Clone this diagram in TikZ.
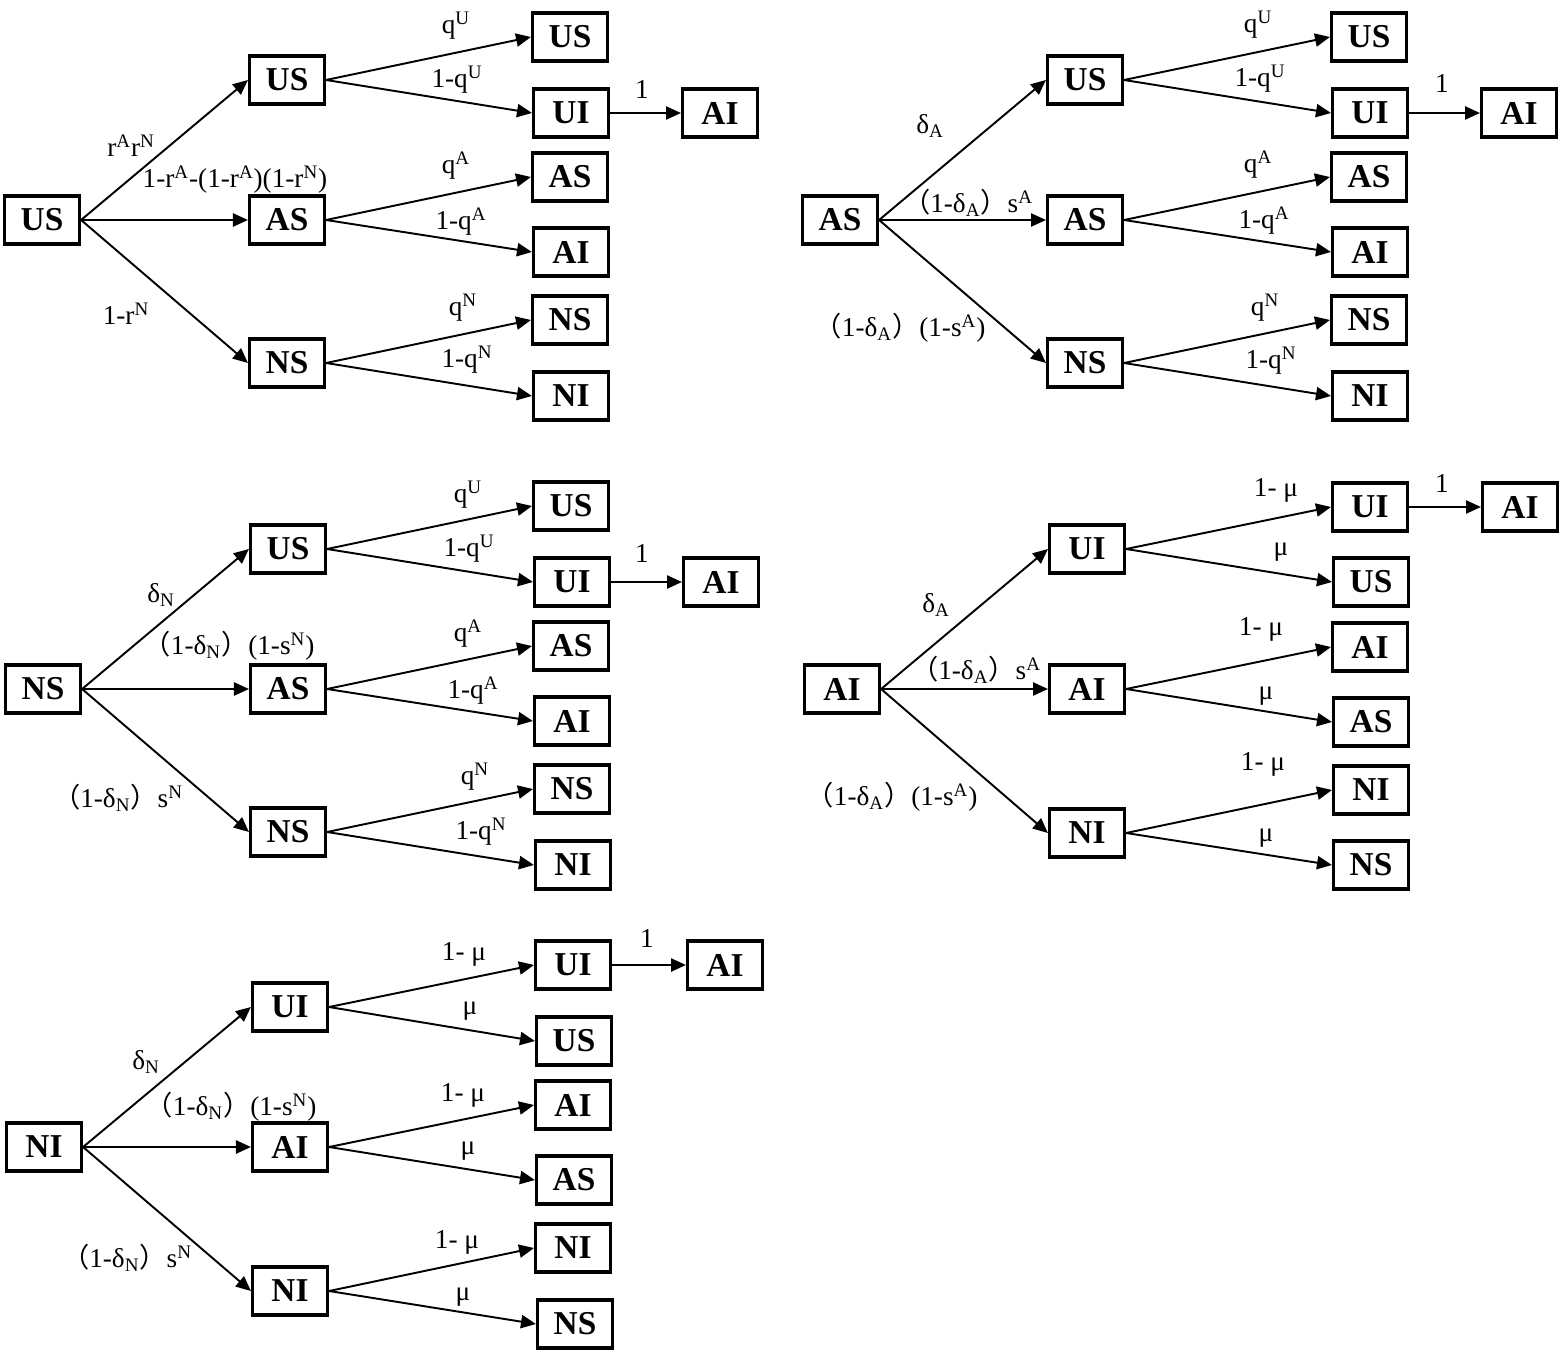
\documentclass[tikz,border=0pt]{standalone}
\usepackage{fontspec}
\setmainfont{Liberation Serif}
\newfontfamily\cjk{Noto Sans CJK SC}
\usetikzlibrary{arrows.meta}
\newcommand{\up}[1]{\textsuperscript{#1}}
\newcommand{\dn}[1]{\textsubscript{#1}}
\newcommand{\lp}{{\cjk （}}
\newcommand{\rp}{{\cjk ）}}
\newcommand{\statenode}[3] {\node at (#1) (#2) [state] {#3};}
\newcommand{\branch}[4] {\draw [prob] (#1.east) -- (#2.west) node (l#2) at (#3) [plabel] {#4};}
\tikzset{
  state/.style={rectangle, draw, line width=1.8pt, minimum width=1.5cm, minimum height=0.96cm, inner sep=0pt, font=\fontsize{19}{22}\selectfont\bfseries},
  prob/.style={-{Triangle[length=8.5pt,width=7.5pt]}, line width=1.1pt},
  plabel/.style={inner sep=0pt, font=\fontsize{15.5}{18}\selectfont}
}
\begin{document}
\begin{tikzpicture}[x=0.02cm, y=-0.02cm]
\useasboundingbox (0,0) rectangle (1561,1361);

\statenode {42,220}{us0}{US}
\statenode {287,80}{us1}{US}
\statenode {287,220}{us2}{AS}
\statenode {287,363}{us3}{NS}
\statenode {570,37}{us11}{US}
\statenode {571,113}{us12}{UI}
\statenode {720,113}{us4}{AI}
\statenode {570,177}{us21}{AS}
\statenode {571,252}{us22}{AI}
\statenode {570,320}{us31}{NS}
\statenode {571,396}{us32}{NI}

\branch {us0}{us1}{131,146}{r\up{A}r\up{N}}
\branch {us0}{us2}{235,180}{1-r\up{A}-(1-r\up{A})(1-r\up{N})}
\branch {us0}{us3}{126,314}{1-r\up{N}}
\branch {us1}{us11}{456,26}{q\up{U}}
\branch {us1}{us12}{457,80}{1-q\up{U}}
\branch {us12}{us4}{642,90}{1}
\branch {us2}{us21}{456,166}{q\up{A}}
\branch {us2}{us22}{461,222}{1-q\up{A}}
\branch {us3}{us31}{463,308}{q\up{N}}
\branch {us3}{us32}{467,360}{1-q\up{N}}

\statenode {840,220}{as0}{AS}
\statenode {1085,80}{as1}{US}
\statenode {1085,220}{as2}{AS}
\statenode {1085,363}{as3}{NS}
\statenode {1369,37}{as11}{US}
\statenode {1370,113}{as12}{UI}
\statenode {1519,113}{as4}{AI}
\statenode {1369,177}{as21}{AS}
\statenode {1370,252}{as22}{AI}
\statenode {1369,320}{as31}{NS}
\statenode {1370,396}{as32}{NI}

\branch {as0}{as1}{930,126}{δ\dn{A}}
\branch {as0}{as2}{968,203}{\lp 1-δ\dn{A}\rp s\up{A}}
\branch {as0}{as3}{900,328}{\lp 1-δ\dn{A}\rp(1-s\up{A})}
\branch {as1}{as11}{1258,25}{q\up{U}}
\branch {as1}{as12}{1260,79}{1-q\up{U}}
\branch {as12}{as4}{1442,84}{1}
\branch {as2}{as21}{1258,165}{q\up{A}}
\branch {as2}{as22}{1264,221}{1-q\up{A}}
\branch {as3}{as31}{1265,308}{q\up{N}}
\branch {as3}{as32}{1271,361}{1-q\up{N}}

\statenode {43,689}{ns0}{NS}
\statenode {288,549}{ns1}{US}
\statenode {288,689}{ns2}{AS}
\statenode {288,832}{ns3}{NS}
\statenode {571,506}{ns11}{US}
\statenode {572,582}{ns12}{UI}
\statenode {721,582}{ns4}{AI}
\statenode {571,646}{ns21}{AS}
\statenode {572,721}{ns22}{AI}
\statenode {572,789}{ns31}{NS}
\statenode {573,865}{ns32}{NI}

\branch {ns0}{ns1}{161,595}{δ\dn{N}}
\branch {ns0}{ns2}{229,646}{\lp 1-δ\dn{N}\rp(1-s\up{N})}
\branch {ns0}{ns3}{118,798}{\lp 1-δ\dn{N}\rp s\up{N}}
\branch {ns1}{ns11}{468,495}{q\up{U}}
\branch {ns1}{ns12}{469,549}{1-q\up{U}}
\branch {ns12}{ns4}{642,554}{1}
\branch {ns2}{ns21}{468,634}{q\up{A}}
\branch {ns2}{ns22}{473,691}{1-q\up{A}}
\branch {ns3}{ns31}{475,777}{q\up{N}}
\branch {ns3}{ns32}{481,832}{1-q\up{N}}

\statenode {842,689}{ai0}{AI}
\statenode {1087,549}{ai1}{UI}
\statenode {1087,689}{ai2}{AI}
\statenode {1087,833}{ai3}{NI}
\statenode {1370,507}{ai11}{UI}
\statenode {1520,507}{ai4}{AI}
\statenode {1371,582}{ai12}{US}
\statenode {1370,647}{ai21}{AI}
\statenode {1371,722}{ai22}{AS}
\statenode {1371,790}{ai31}{NI}
\statenode {1371,865}{ai32}{NS}

\branch {ai0}{ai1}{936,605}{δ\dn{A}}
\branch {ai0}{ai2}{976,670}{\lp 1-δ\dn{A}\rp s\up{A}}
\branch {ai0}{ai3}{892,797}{\lp 1-δ\dn{A}\rp(1-s\up{A})}
\branch {ai1}{ai11}{1276,490}{1- μ}
\branch {ai1}{ai12}{1281,552}{μ}
\branch {ai11}{ai4}{1442,484}{1}
\branch {ai2}{ai21}{1261,629}{1- μ}
\branch {ai2}{ai22}{1266,696}{μ}
\branch {ai3}{ai31}{1263,764}{1- μ}
\branch {ai3}{ai32}{1266,838}{μ}

\statenode {44,1147}{ni0}{NI}
\statenode {290,1007}{ni1}{UI}
\statenode {290,1147}{ni2}{AI}
\statenode {290,1291}{ni3}{NI}
\statenode {573,965}{ni11}{UI}
\statenode {725,965}{ni4}{AI}
\statenode {574,1041}{ni12}{US}
\statenode {573,1105}{ni21}{AI}
\statenode {574,1180}{ni22}{AS}
\statenode {573,1248}{ni31}{NI}
\statenode {575,1324}{ni32}{NS}

\branch {ni0}{ni1}{146,1062}{δ\dn{N}}
\branch {ni0}{ni2}{231,1107}{\lp 1-δ\dn{N}\rp(1-s\up{N})}
\branch {ni0}{ni3}{127,1258}{\lp 1-δ\dn{N}\rp s\up{N}}
\branch {ni1}{ni11}{464,954}{1- μ}
\branch {ni1}{ni12}{470,1011}{μ}
\branch {ni11}{ni4}{647,939}{1}
\branch {ni2}{ni21}{463,1095}{1- μ}
\branch {ni2}{ni22}{468,1151}{μ}
\branch {ni3}{ni31}{457,1242}{1- μ}
\branch {ni3}{ni32}{463,1297}{μ}
\end{tikzpicture}
\end{document}
